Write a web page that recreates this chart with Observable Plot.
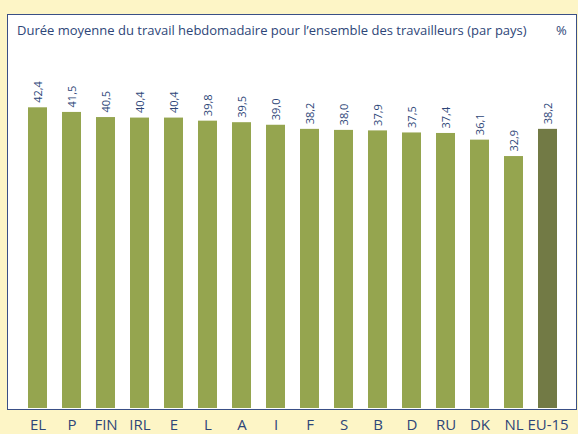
<!DOCTYPE html>
<html>
<head>
<meta charset="utf-8">
<script src="https://cdn.jsdelivr.net/npm/d3@7"></script>
<script src="https://cdn.jsdelivr.net/npm/@observablehq/plot@0.6"></script>
<style>
  html, body { margin: 0; padding: 0; }
  body { width: 578px; height: 434px; background: #fdf5c6; position: relative; overflow: hidden;
         font-family: "Open Sans", "Noto Sans", sans-serif; }
  #panel { position: absolute; left: 7px; top: 14px; width: 568px; height: 394px;
           background: #ffffff; border: 1.5px solid #3a4f86; }
  #title { position: absolute; left: 17px; top: 21px; font-size: 13px; color: #2e4678; white-space: nowrap; }
  #unit { position: absolute; left: 556px; top: 21px; font-size: 13px; color: #2e4678; }
  #chart { position: absolute; left: 0; top: 0; }
</style>
</head>
<body>
<div id="panel"></div>
<div id="title">Durée moyenne du travail hebdomadaire pour l’ensemble des travailleurs (par pays)</div>
<div id="unit">%</div>
<div id="chart"></div>
<script>
const countries = ["EL", "P", "FIN", "IRL", "E", "L", "A", "I", "F", "S", "B", "D", "RU", "DK", "NL", "EU-15"];
const hours = [42.4, 41.5, 40.5, 40.4, 40.4, 39.8, 39.5, 39.0, 38.2, 38.0, 37.9, 37.5, 37.4, 36.1, 32.9, 38.2];
const labels = ["42,4", "41,5", "40,5", "40,4", "40,4", "39,8", "39,5", "39,0", "38,2", "38,0", "37,9", "37,5", "37,4", "36,1", "32,9", "38,2"];
const groups = ["pays", "pays", "pays", "pays", "pays", "pays", "pays", "pays", "pays", "pays", "pays", "pays", "pays", "pays", "pays", "ue"];

const data = countries.map((c, i) => ({country: c, value: hours[i], label: labels[i], group: groups[i]}));
const yDomain = [-16.2, 60];
const ink = "#2e4678";

const chart = Plot.plot({
  width: 578,
  height: 434,
  marginTop: 17,
  marginBottom: 26,
  marginLeft: 6,
  marginRight: 0,
  style: {background: "transparent", fontFamily: "'Open Sans', 'Noto Sans', sans-serif", overflow: "visible"},
  x: {domain: countries, padding: 0.45, label: null},
  y: {domain: yDomain, axis: null},
  color: {domain: ["pays", "ue"], range: ["#95a54f", "#727a45"]},
  marks: [
    Plot.rectY(data, {x: "country", y1: () => yDomain[0], y2: "value", fill: "group"}),
    Plot.text(data, {x: "country", y: "value", text: "label", rotate: -90, textAnchor: "start",
      dy: -5, fontSize: 11, fill: ink}),
    Plot.axisX({tickSize: 0, tickPadding: 11, fontSize: 15, color: ink, label: null})
  ]
});
document.getElementById("chart").appendChild(chart);
</script>
</body>
</html>
